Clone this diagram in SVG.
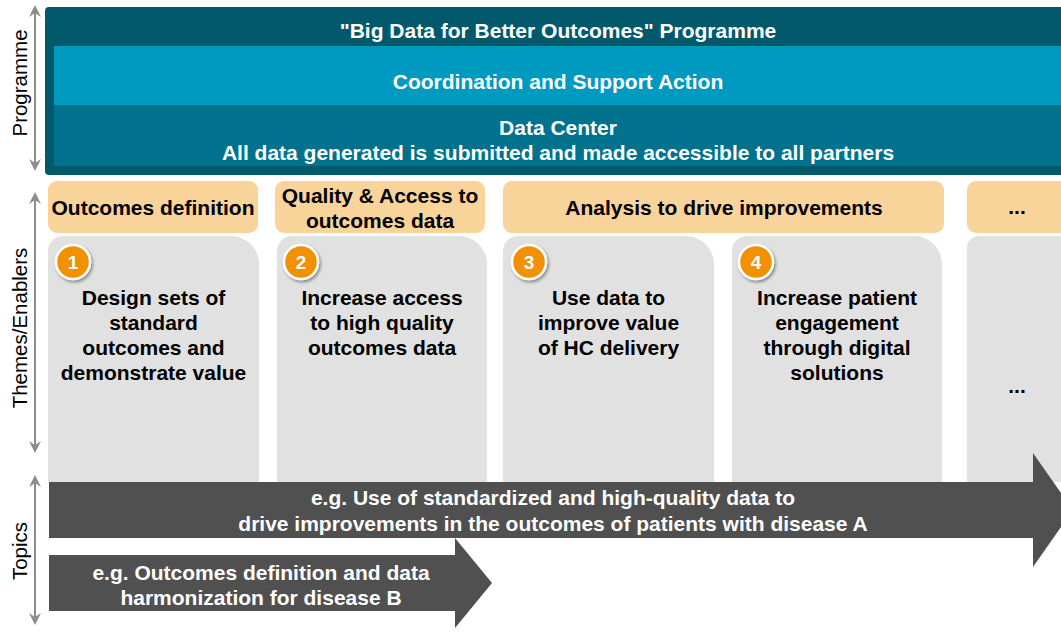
<svg xmlns="http://www.w3.org/2000/svg" width="1061" height="632" viewBox="0 0 1061 632">
  <style>
    .t { font-family: "Liberation Sans", Arial, sans-serif; font-size: 21px; text-anchor: middle; }
    .b { font-weight: bold; }
    .w { fill: #ffffff; }
    .k { fill: #000000; }
    .num { font-size: 19px; }
    .axis-label { font-family: "Liberation Sans", Arial, sans-serif; font-size: 20.5px; text-anchor: middle; fill: #000000; }
    .axis { stroke: #8c8c8c; stroke-width: 2; fill: none; marker-start: url(#axhead); marker-end: url(#axhead); }
    .header { fill: #f8d49b; }
    .card { fill: #e1e1e1; }
    .badge { fill: #f29100; stroke: #ffffff; stroke-width: 2.5; filter: url(#shadow); }
    .topic { fill: #505050; }
  </style>
  <defs>
    <marker id="axhead" viewBox="0 0 12 12" refX="9" refY="6" markerWidth="12" markerHeight="12" markerUnits="userSpaceOnUse" orient="auto-start-reverse">
      <path d="M0,0 L12,6 L0,12 L4,6 Z" fill="#8c8c8c"/>
    </marker>
    <filter id="shadow" x="-30%" y="-30%" width="170%" height="170%">
      <feDropShadow dx="1.5" dy="2" stdDeviation="1.5" flood-color="#000000" flood-opacity="0.4"/>
    </filter>
  </defs>

  <!-- Programme block -->
  <g id="programme">
    <rect x="45" y="7" width="1030" height="168" rx="4" fill="#03596c"/>
    <text class="t b w" x="558" y="38">"Big Data for Better Outcomes" Programme</text>
  </g>
  <g id="coordination">
    <rect x="54" y="46" width="1010" height="59" fill="#0099bf"/>
    <text class="t b w" x="558" y="89">Coordination and Support Action</text>
  </g>
  <g id="data-center">
    <rect x="54" y="105" width="1010" height="61" fill="#00728e"/>
    <text class="t b w" x="558" y="135">Data Center</text>
    <text class="t b w" x="558" y="160">All data generated is submitted and made accessible to all partners</text>
  </g>

  <!-- Theme headers -->
  <g id="header-outcomes">
    <rect class="header" x="48" y="181" width="210" height="52" rx="9"/>
    <text class="t b k" x="153" y="215">Outcomes definition</text>
  </g>
  <g id="header-quality">
    <rect class="header" x="275" y="181" width="210" height="52" rx="9"/>
    <text class="t b k" x="380" y="203">Quality &amp; Access to</text>
    <text class="t b k" x="380" y="228">outcomes data</text>
  </g>
  <g id="header-analysis">
    <rect class="header" x="503" y="181" width="441" height="52" rx="9"/>
    <text class="t b k" x="724" y="215">Analysis to drive improvements</text>
  </g>
  <g id="header-more">
    <rect class="header" x="967" y="181" width="110" height="52" rx="9"/>
    <text class="t b k" x="1017" y="214">...</text>
  </g>

  <!-- Enabler cards -->
  <g id="card-1">
    <path class="card" d="M48,482 V251 A15,15 0 0 1 63,236 H231 A28,28 0 0 1 259,264 V482 Z"/>
    <circle class="badge" cx="73" cy="262" r="17"/>
    <text class="t b w num" x="73" y="269">1</text>
    <text class="t b k" x="153.5" y="305">Design sets of</text>
    <text class="t b k" x="153.5" y="330">standard</text>
    <text class="t b k" x="153.5" y="355">outcomes and</text>
    <text class="t b k" x="153.5" y="380">demonstrate value</text>
  </g>
  <g id="card-2">
    <path class="card" d="M277,482 V251 A15,15 0 0 1 292,236 H459 A28,28 0 0 1 487,264 V482 Z"/>
    <circle class="badge" cx="301" cy="262" r="17"/>
    <text class="t b w num" x="301" y="269">2</text>
    <text class="t b k" x="382" y="305">Increase access</text>
    <text class="t b k" x="382" y="330">to high quality</text>
    <text class="t b k" x="382" y="355">outcomes data</text>
  </g>
  <g id="card-3">
    <path class="card" d="M503,482 V251 A15,15 0 0 1 518,236 H686 A28,28 0 0 1 714,264 V482 Z"/>
    <circle class="badge" cx="529" cy="262" r="17"/>
    <text class="t b w num" x="529" y="269">3</text>
    <text class="t b k" x="608.5" y="305">Use data to</text>
    <text class="t b k" x="608.5" y="330">improve value</text>
    <text class="t b k" x="608.5" y="355">of HC delivery</text>
  </g>
  <g id="card-4">
    <path class="card" d="M732,482 V251 A15,15 0 0 1 747,236 H914 A28,28 0 0 1 942,264 V482 Z"/>
    <circle class="badge" cx="756" cy="262" r="17"/>
    <text class="t b w num" x="756" y="269">4</text>
    <text class="t b k" x="837" y="305">Increase patient</text>
    <text class="t b k" x="837" y="330">engagement</text>
    <text class="t b k" x="837" y="355">through digital</text>
    <text class="t b k" x="837" y="380">solutions</text>
  </g>
  <g id="card-more">
    <path class="card" d="M967,482 V248 A12,12 0 0 1 979,236 H1075 V482 Z"/>
    <text class="t b k" x="1017" y="393">...</text>
  </g>

  <!-- Topic arrows -->
  <g id="topic-a">
    <polygon class="topic" points="49,482 1033,482 1033,453 1073,510 1033,567 1033,538 49,538"/>
    <text class="t b w" x="553" y="505">e.g. Use of standardized and high-quality data to</text>
    <text class="t b w" x="553" y="531">drive improvements in the outcomes of patients with disease A</text>
  </g>
  <g id="topic-b">
    <polygon class="topic" points="49,555 455,555 455,538 492,583 455,628 455,611 49,611"/>
    <text class="t b w" x="261" y="580">e.g. Outcomes definition and data</text>
    <text class="t b w" x="261" y="605">harmonization for disease B</text>
  </g>

  <!-- Level axes -->
  <g id="connectors">
    <line class="axis" x1="35" y1="8" x2="35" y2="168"/>
    <line class="axis" x1="35" y1="195" x2="35" y2="450"/>
    <line class="axis" x1="35" y1="478" x2="35" y2="622"/>
  </g>
  <g id="axis-labels">
    <text class="axis-label" transform="translate(27,83) rotate(-90)">Programme</text>
    <text class="axis-label" transform="translate(27,328) rotate(-90)">Themes/Enablers</text>
    <text class="axis-label" transform="translate(27,551) rotate(-90)">Topics</text>
  </g>
</svg>
